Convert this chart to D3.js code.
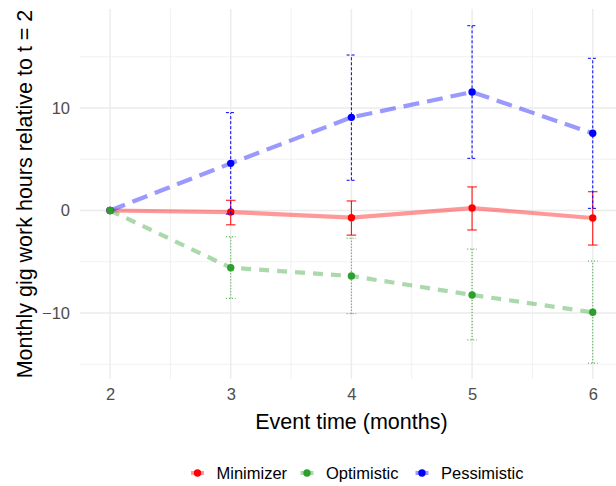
<!DOCTYPE html>
<html><head><meta charset="utf-8">
<script src="https://cdn.jsdelivr.net/npm/d3@7"></script>
<style>body{margin:0;background:#fff}svg{display:block}text{font-family:"Liberation Sans",Arial,sans-serif}</style>
</head><body><svg id="c" width="616" height="486"></svg>
<script>
const times = [2, 3, 4, 5, 6];
const groups = ["Minimizer", "Optimistic", "Pessimistic"];
const minimizerMean = [0, -0.15, -0.7, 0.24, -0.73];
const minimizerLow  = [0, -1.4, -2.4, -1.9, -3.37];
const minimizerHigh = [0, 1.0, 0.93, 2.3, 1.83];
const optimisticMean = [0, -5.58, -6.39, -8.24, -9.93];
const optimisticLow  = [0, -8.57, -10.07, -12.63, -14.9];
const optimisticHigh = [0, -2.56, -2.7, -3.76, -4.93];
const pessimisticMean = [0, 4.6, 9.09, 11.56, 7.53];
const pessimisticLow  = [0, -0.35, 2.95, 5.09, 0.21];
const pessimisticHigh = [0, 9.55, 15.17, 18.03, 14.85];
const xTicks = [2, 3, 4, 5, 6];
const yTicks = [-10, 0, 10];
const yMinor = [-15, -5, 5, 15];
const xMinor = [2.5, 3.5, 4.5, 5.5];

const series = [
  {name: "Minimizer", mean: minimizerMean, low: minimizerLow, high: minimizerHigh,
   color: "#FF0000", line: "rgba(255,0,0,0.4)", dash: null, ebDash: null},
  {name: "Optimistic", mean: optimisticMean, low: optimisticLow, high: optimisticHigh,
   color: "#2CA02C", line: "rgba(44,160,44,0.4)", dash: "10,8", ebDash: "1,2"},
  {name: "Pessimistic", mean: pessimisticMean, low: pessimisticLow, high: pessimisticHigh,
   color: "#0000FF", line: "rgba(0,0,255,0.4)", dash: "16,8", ebDash: "3,2"}
];

const svg = d3.select("#c");
const x = d3.scaleLinear().domain([1.751, 6.249]).range([80, 622.8]);
const y = d3.scaleLinear().domain([-16.44, 19.66]).range([379, 9]);
const grid = "#EBEBEB";

const g = svg.append("g");
g.selectAll(".ym").data(yMinor).join("line")
  .attr("x1", 80).attr("x2", 622.8).attr("y1", d => y(d)).attr("y2", d => y(d))
  .attr("stroke", grid).attr("stroke-width", 0.7);
g.selectAll(".xm").data(xMinor).join("line")
  .attr("y1", 9).attr("y2", 379).attr("x1", d => x(d)).attr("x2", d => x(d))
  .attr("stroke", grid).attr("stroke-width", 0.7);
g.selectAll(".yM").data(yTicks).join("line")
  .attr("x1", 80).attr("x2", 622.8).attr("y1", d => y(d)).attr("y2", d => y(d))
  .attr("stroke", grid).attr("stroke-width", 1.4);
g.selectAll(".xM").data(xTicks).join("line")
  .attr("y1", 9).attr("y2", 379).attr("x1", d => x(d)).attr("x2", d => x(d))
  .attr("stroke", grid).attr("stroke-width", 1.4);

const yAxis = svg.append("g").attr("transform", "translate(80,0)")
  .call(d3.axisLeft(y).tickValues(yTicks).tickSize(0).tickPadding(10)
  .tickFormat(d => d < 0 ? "\u2212" + Math.abs(d) : String(d)));
yAxis.select(".domain").remove();
yAxis.selectAll("text").attr("font-size", 16.5).attr("fill", "#4D4D4D")
  .attr("font-family", "Liberation Sans, Arial, sans-serif");
const xAxis = svg.append("g").attr("transform", "translate(0,379)")
  .call(d3.axisBottom(x).tickValues(xTicks).tickSize(0).tickPadding(9).tickFormat(d3.format("d")));
xAxis.select(".domain").remove();
xAxis.selectAll("text").attr("font-size", 16.5).attr("fill", "#4D4D4D")
  .attr("font-family", "Liberation Sans, Arial, sans-serif");

const line = d3.line().x((d, i) => x(times[i])).y(d => y(d));
const capHalf = 4.8;
series.forEach(s => {
  g.append("path").datum(s.mean).attr("d", line).attr("fill", "none")
    .attr("stroke", s.line).attr("stroke-width", 4.2)
    .attr("stroke-dasharray", s.dash);
});
[0, 2, 1].forEach(k => {
  const s = series[k];
  const eb = g.append("g");
  times.forEach((t, i) => {
    if (s.low[i] === s.high[i]) return;
    const cx = x(t);
    eb.append("line").attr("x1", cx).attr("x2", cx).attr("y1", y(s.low[i])).attr("y2", y(s.high[i]))
      .attr("stroke", s.color).attr("stroke-width", 1).attr("stroke-dasharray", s.ebDash);
    [s.low[i], s.high[i]].forEach(v => {
      eb.append("line").attr("x1", cx - capHalf).attr("x2", cx + capHalf).attr("y1", y(v)).attr("y2", y(v))
        .attr("stroke", s.color).attr("stroke-width", 1).attr("stroke-dasharray", s.ebDash);
    });
  });
  eb.selectAll("circle").data(s.mean).join("circle")
    .attr("cx", (d, i) => x(times[i])).attr("cy", d => y(d)).attr("r", 3.7).attr("fill", s.color);
});

svg.append("text").attr("x", x(4)).attr("y", 429).attr("text-anchor", "middle")
  .attr("font-size", 21.5).attr("fill", "#000").text("Event time (months)");
svg.append("text").attr("transform", "translate(32," + ((9 + 379) / 2) + ") rotate(-90)")
  .attr("text-anchor", "middle").attr("font-size", 21.5).attr("fill", "#000")
  .text("Monthly gig work hours relative to t = 2");

const legX = [197.5, 307, 422];
const leg = svg.append("g");
series.forEach((s, i) => {
  const cx = legX[i], cy = 473;
  leg.append("line").attr("x1", cx - 6.5).attr("x2", cx + 6.5).attr("y1", cy).attr("y2", cy)
    .attr("stroke", s.line).attr("stroke-width", 4);
  leg.append("circle").attr("cx", cx).attr("cy", cy).attr("r", 3.7).attr("fill", s.color);
  leg.append("text").attr("x", cx + 19).attr("y", cy + 6).attr("font-size", 16.5)
    .attr("fill", "#000").text(groups[i]);
});
</script></body></html>
